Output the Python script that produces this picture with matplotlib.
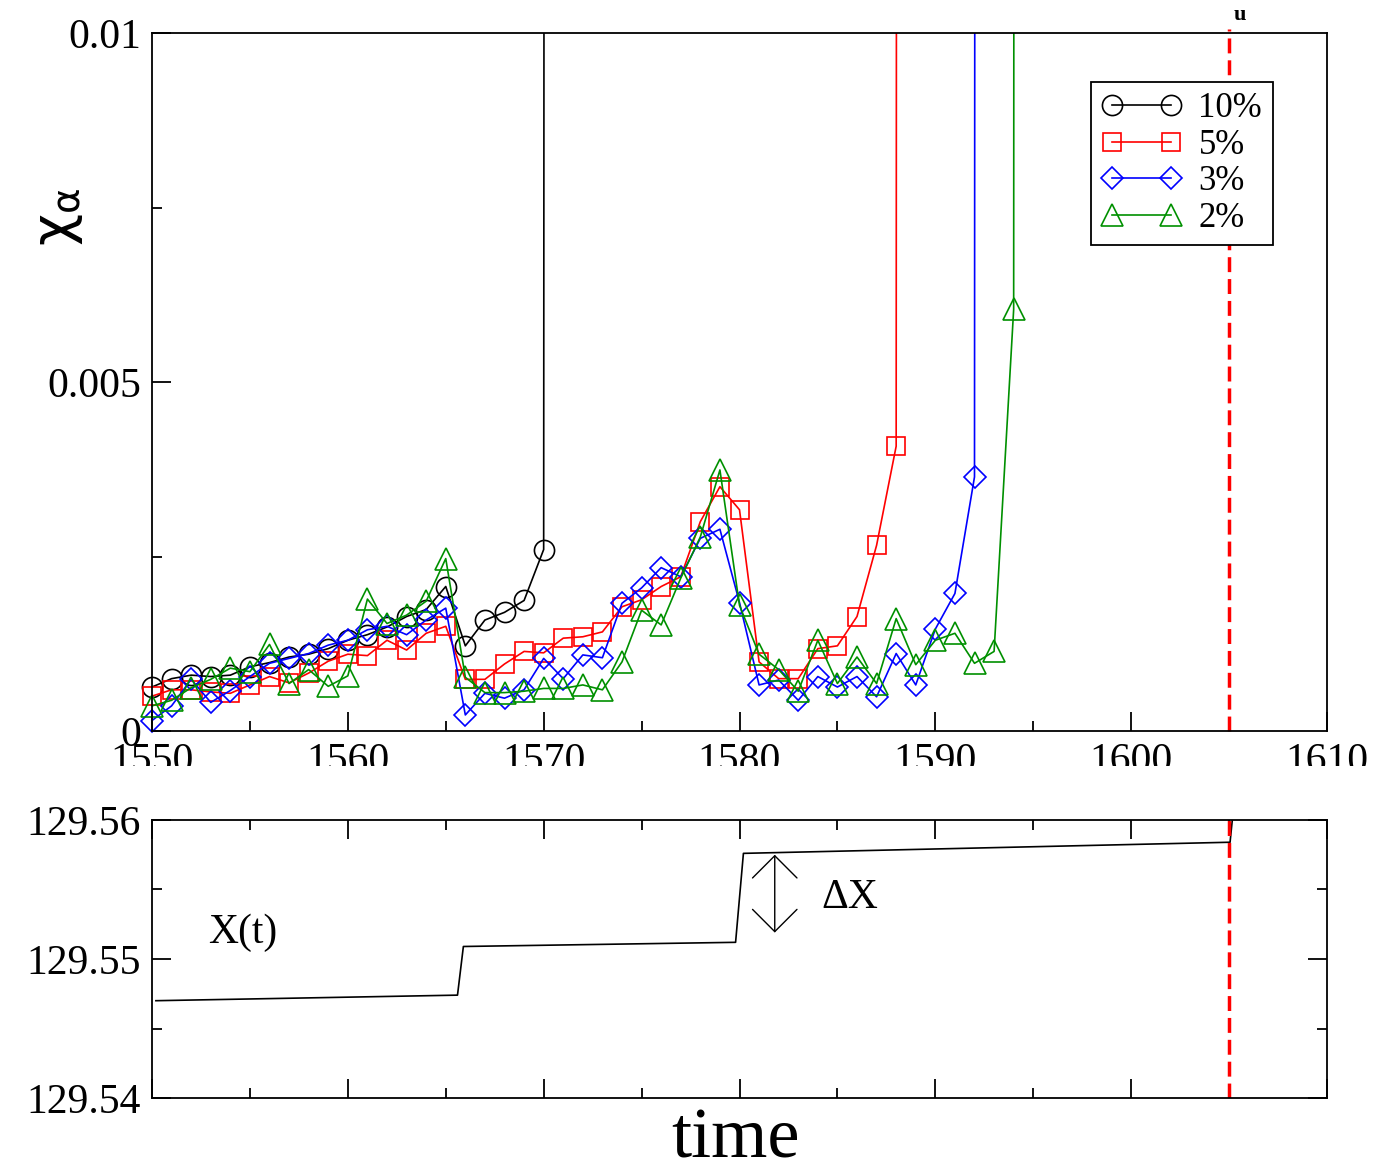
import numpy as np
import matplotlib.pyplot as plt
from matplotlib.patches import Rectangle
from matplotlib.ticker import MultipleLocator

plt.rcParams['font.family'] = ['Liberation Serif', 'DejaVu Serif']
plt.rcParams['mathtext.default'] = 'regular'

# chi_alpha for each threshold, one value per time step starting at 1550
# (last value of each series is off scale: the curve shoots out of the frame)
t10 = np.arange(1550, 1572)
chi10 = [0.00063, 0.00075, 0.00080, 0.00078, 0.00080, 0.00092, 0.00098, 0.00106,
         0.00110, 0.00118, 0.00130, 0.00138, 0.00149, 0.00164, 0.00174, 0.00207,
         0.00122, 0.00159, 0.00170, 0.00187, 0.00260, 0.5]

t5 = np.arange(1550, 1590)
chi5 = [0.00050, 0.00059, 0.00059, 0.00056, 0.00054, 0.00066, 0.00078, 0.00069,
        0.00083, 0.00100, 0.00110, 0.00108, 0.00130, 0.00116, 0.00140, 0.00150,
        0.00074, 0.00074, 0.00096, 0.00114, 0.00112, 0.00133, 0.00135, 0.00142,
        0.00178, 0.00188, 0.00207, 0.00221, 0.00300, 0.00350, 0.00317, 0.00099,
        0.00075, 0.00075, 0.00118, 0.00122, 0.00164, 0.00266, 0.00408, 0.5]

t3 = np.arange(1550, 1594)
chi3 = [0.00015, 0.00036, 0.00074, 0.00041, 0.00058, 0.00078, 0.00097, 0.00104,
        0.00111, 0.00123, 0.00130, 0.00145, 0.00150, 0.00138, 0.00159, 0.00176,
        0.00023, 0.00054, 0.00047, 0.00059, 0.00104, 0.00075, 0.00109, 0.00105,
        0.00183, 0.00205, 0.00234, 0.00221, 0.00276, 0.00289, 0.00184, 0.00066,
        0.00073, 0.00044, 0.00078, 0.00063, 0.00078, 0.00049, 0.00111, 0.00066,
        0.00146, 0.00197, 0.00364, 0.5]

t2 = np.arange(1550, 1596)
chi2 = [0.00036, 0.00044, 0.00062, 0.00074, 0.00090, 0.00085, 0.00124, 0.00068,
        0.00088, 0.00064, 0.00079, 0.00189, 0.00154, 0.00166, 0.00186, 0.00247,
        0.00077, 0.00055, 0.00055, 0.00057, 0.00061, 0.00061, 0.00066, 0.00059,
        0.00099, 0.00173, 0.00152, 0.00219, 0.00278, 0.00374, 0.00180, 0.00110,
        0.00088, 0.00057, 0.00130, 0.00068, 0.00106, 0.00068, 0.00161, 0.00095,
        0.00130, 0.00140, 0.00097, 0.00114, 0.00604, 0.5]

# position X(t), corner points of the staircase
tx = [1550.2, 1565.6, 1565.9, 1579.8, 1580.2, 1605.05, 1605.2]
xx = [129.5470, 129.5474, 129.5509, 129.5512, 129.5576, 129.5584, 129.5605]

t_fail = 1605

fig = plt.figure(figsize=(13.86, 11.71), dpi=100)
ax1 = fig.add_axes([152/1386, 1-731/1171, 1175/1386, 698/1171])
ax2 = fig.add_axes([152/1386, 1-1098/1171, 1175/1386, 278/1171])
ax2.set_zorder(2)

series = [(t10, chi10, 'black', 'o', 14.5, '10%'),
          (t5, chi5, 'red', 's', 13.5, '5%'),
          (t3, chi3, 'blue', 'D', 11.5, '3%'),
          (t2, chi2, '#009000', '^', 15.5, '2%')]
for t, y, c, m, ms, lab in series:
    ln, = ax1.plot(t, y, color=c, lw=1.2, marker=m, ms=ms, mfc='none', mec=c,
                   mew=1.2, label=lab)
    # let markers spill over the left/bottom frame, but clip at the top
    ln.set_clip_path(Rectangle((-0.05, -0.05), 1.1, 1.05, transform=ax1.transAxes))

ax1.axvline(t_fail, ymax=1.006, color='red', lw=2.5, ls=(0, (4.3, 2)), clip_on=False)

ax1.set_xlim(1550, 1610)
ax1.set_ylim(0, 0.01)
ax1.xaxis.set_major_locator(MultipleLocator(10))
ax1.xaxis.set_minor_locator(MultipleLocator(5))
ax1.set_yticks([0, 0.005, 0.01], ['0', '0.005', '0.01'])
ax1.yaxis.set_minor_locator(MultipleLocator(0.0025))
ax1.tick_params(which='both', direction='in', top=False, right=False, width=1.3,
                labelsize=30, pad=8)
ax1.tick_params(which='major', length=14)
ax1.tick_params(which='minor', length=7)

leg = ax1.legend(loc='upper left', bbox_to_anchor=(0.799, 0.93), numpoints=2,
                 handlelength=2.3, handletextpad=0.5, fontsize=25, fancybox=False,
                 edgecolor='black', framealpha=1, borderpad=0.3, labelspacing=0.1,
                 borderaxespad=0)
leg.get_frame().set_linewidth(1.3)

# bottom panel
ax2.plot(tx, xx, color='black', lw=1.2)
ax2.axvline(t_fail, color='red', lw=2.5, ls=(0, (4.3, 2)))
ax2.annotate('', xy=(1581.8, 129.5519), xytext=(1581.8, 129.5575),
             arrowprops=dict(arrowstyle='<->, head_length=0.4, head_width=0.4',
                             color='black', lw=1.0, mutation_scale=40,
                             shrinkA=0, shrinkB=0))
ax2.text(1552.86, 129.5519, 'X(t)', fontsize=30, ha='left', va='center')
ax2.text(1584.2, 129.5544, 'ΔX', fontsize=30, ha='left', va='center')

ax2.set_xlim(1550, 1610)
ax2.set_ylim(129.54, 129.56)
ax2.xaxis.set_major_locator(MultipleLocator(10))
ax2.xaxis.set_minor_locator(MultipleLocator(5))
ax2.set_yticks([129.54, 129.55, 129.56], ['129.54', '129.55', '129.56'])
ax2.yaxis.set_minor_locator(MultipleLocator(0.005))
ax2.tick_params(which='both', direction='in', top=True, right=True, width=1.3,
                labelbottom=False, labelsize=30, pad=8)
ax2.tick_params(which='major', length=14)
ax2.tick_params(which='minor', length=7)

for ax in (ax1, ax2):
    for s in ax.spines.values():
        s.set_linewidth(1.3)

fig.text(58/1386, 1-217/1171, r'$\chi_\alpha$', fontsize=40, rotation=90,
         ha='center', va='center', family='DejaVu Sans')
fig.text(735/1386, 1-1158/1171, 'time', fontsize=52, ha='center', va='baseline')
fig.text(1240/1386, 1-15/1171, 'u', fontsize=16, weight='bold', ha='center', va='center')

# the reference cuts the lower part of the upper x tick labels
fig.add_artist(Rectangle((0, 1-806/1171), 1, 40/1171, transform=fig.transFigure,
                         facecolor='white', edgecolor='none', zorder=1))

plt.savefig('out.png', dpi=100)
